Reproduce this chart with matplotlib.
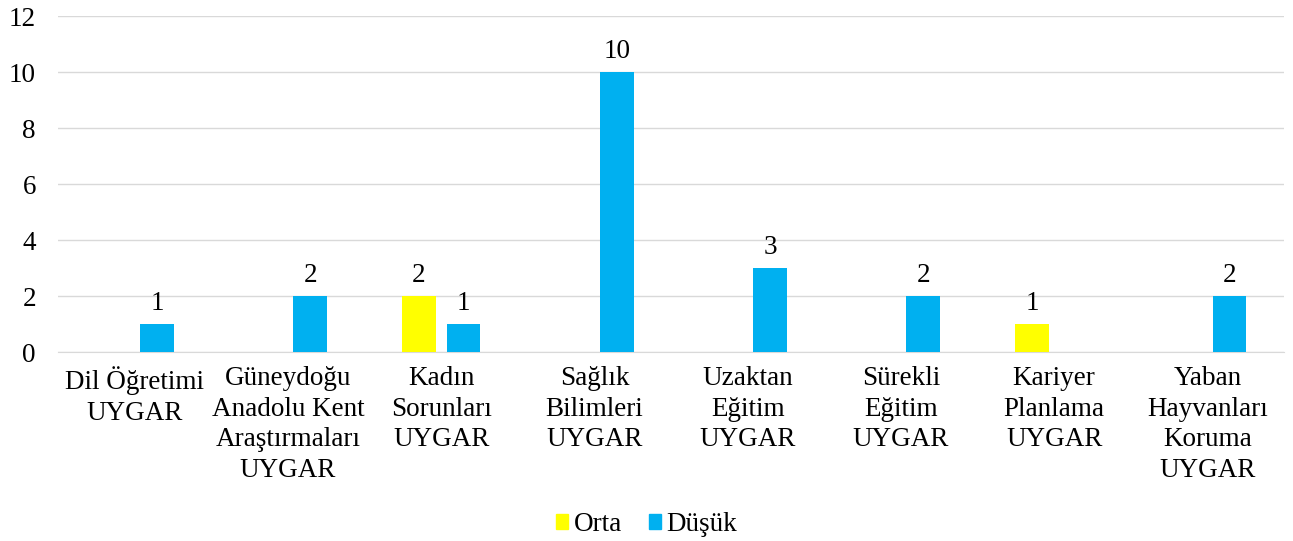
import numpy as np
import matplotlib.pyplot as plt
from matplotlib.patches import Patch

plt.rcParams['font.family'] = ['Liberation Serif', 'DejaVu Serif']

# Veriler
kategoriler = ["Dil Öğretimi\nUYGAR", "Güneydoğu\nAnadolu Kent\nAraştırmaları\nUYGAR",
               "Kadın\nSorunları\nUYGAR", "Sağlık\nBilimleri\nUYGAR",
               "Uzaktan\nEğitim\nUYGAR", "Sürekli\nEğitim\nUYGAR",
               "Kariyer\nPlanlama\nUYGAR", "Yaban\nHayvanları\nKoruma\nUYGAR"]
orta = [0, 0, 2, 0, 0, 0, 1, 0]
dusuk = [1, 2, 1, 10, 3, 2, 0, 2]

x = np.arange(len(kategoriler))
w = 0.22
off = 0.145
fs = 19.5

fig = plt.figure(figsize=(12.93, 5.41), dpi=100)
ax = fig.add_axes([0.045, 0.349, 0.948, 0.621])

b1 = ax.bar(x - off, orta, w, color='#FFFF00', zorder=3)
b2 = ax.bar(x + off, dusuk, w, color='#00B0F0', zorder=3)

for bars, vals in [(b1, orta), (b2, dusuk)]:
    for b, v in zip(bars, vals):
        if v > 0:
            ax.text(b.get_x() + b.get_width() / 2, v + 0.3, str(v),
                    ha='center', va='bottom', fontsize=fs)

ax.set_xlim(-0.5, len(kategoriler) - 0.5)
ax.set_ylim(0, 12)
ax.set_yticks(range(0, 13, 2))
ax.set_xticks(x)
ax.set_xticklabels(kategoriler, fontsize=fs, linespacing=1.3)
ax.tick_params(axis='y', labelsize=fs, length=0, pad=16)
ax.tick_params(axis='x', length=0, pad=10)
ax.grid(axis='y', color='#D9D9D9', linewidth=1, zorder=0)
for s in ['top', 'right', 'left']:
    ax.spines[s].set_visible(False)
ax.spines['bottom'].set_color('#D9D9D9')

handles = [Patch(color='#FFFF00', label='Orta'), Patch(color='#00B0F0', label='Düşük')]
fig.legend(handles=handles, loc='center', bbox_to_anchor=(0.5, 0.03), ncol=2,
           frameon=False, fontsize=fs, handlelength=0.45, handleheight=0.45,
           handletextpad=0.2, columnspacing=1.0)

fig.savefig('out.png', dpi=100)
